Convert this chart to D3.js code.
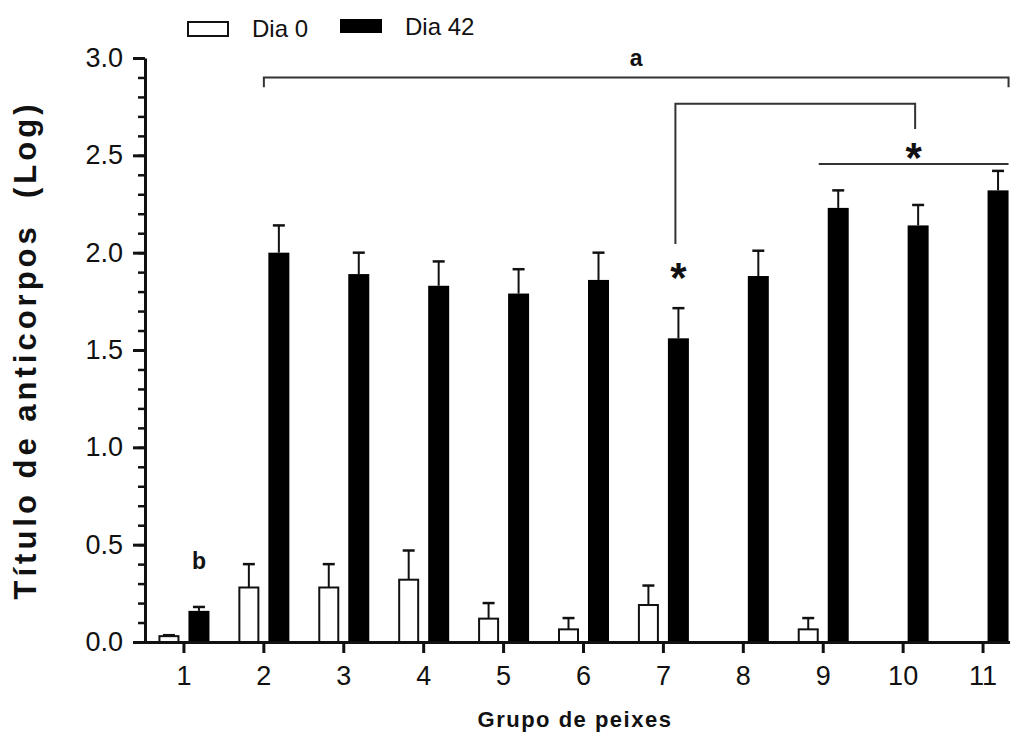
<!DOCTYPE html>
<html>
<head>
<meta charset="utf-8">
<script src="https://cdn.jsdelivr.net/npm/d3@7"></script>
<style>
body { margin: 0; background: #fff; }
svg { display: block; font-family: "Liberation Sans", Arial, Helvetica, sans-serif; }
</style>
</head>
<body>
<svg id="chart"></svg>
<script>
const WIDTH = 1017;
const HEIGHT = 736;

// groups of fish and the two sampling days
const groups = ["1", "2", "3", "4", "5", "6", "7", "8", "9", "10", "11"];
const series = ["Dia 0", "Dia 42"];

const dia0 = [0.03, 0.28, 0.28, 0.32, 0.12, 0.065, 0.19, 0, 0.065, 0, 0];
const dia0Err = [0.005, 0.12, 0.12, 0.15, 0.08, 0.058, 0.10, 0, 0.058, 0, 0];
const dia42 = [0.16, 2.0, 1.89, 1.83, 1.79, 1.86, 1.56, 1.88, 2.23, 2.14, 2.32];
const dia42Err = [0.02, 0.14, 0.11, 0.125, 0.125, 0.14, 0.155, 0.13, 0.09, 0.105, 0.1];

const yMajorTicks = [0, 0.5, 1.0, 1.5, 2.0, 2.5, 3.0];
const yMinorTicks = d3.range(0, 31).map(d => d / 10);

// significance marks (y in axis units)
const brackets = [
	{ from: ["2", "mid"], to: ["11", "Dia 42 right"], y: 2.9, yFrom: 2.85, yTo: 2.85 },
	{ from: ["7", "Dia 42 mid"], to: ["10", "Dia 42 mid"], y: 2.765, yFrom: 2.045, yTo: 2.635 },
	{ from: ["9", "Dia 0 right"], to: ["11", "Dia 42 right"], y: 2.455, yFrom: 2.455, yTo: 2.455 },
];
const bracketLabels = [
	{ bracket: 0, text: "a", y: 2.995, kind: "letter" },
	{ bracket: 2, text: "*", y: 2.535, kind: "star" },
];
const barLabels = [
	{ group: "7", text: "*", y: 1.92, kind: "star" },
	{ group: "1", text: "b", y: 0.41, kind: "letter" },
];

const svg = d3.select("#chart").attr("width", WIDTH).attr("height", HEIGHT);

const x0 = d3.scaleBand(groups, [144, 1023]).padding(0);
const x1 = d3.scaleBand(series, [x0.bandwidth() / 2 - 25.5, x0.bandwidth() / 2 + 25.5]).paddingInner(0.3);
const y = d3.scaleLinear([0, 3], [642, 58]);
const bw = x1.bandwidth();

function anchorX(g, where) {
	const left = x0(g);
	if (where === "mid") return left + x0.bandwidth() / 2;
	if (where === "Dia 42 mid") return left + x1("Dia 42") + bw / 2 - 3;
	if (where === "Dia 42 right") return left + x1("Dia 42") + bw;
	if (where === "Dia 0 right") return left + x1("Dia 0") + bw;
	return left;
}

const rows = groups.map((g, i) => ({
	g,
	bars: [
		{ s: "Dia 0", v: dia0[i], e: dia0Err[i] },
		{ s: "Dia 42", v: dia42[i], e: dia42Err[i] },
	],
}));

const groupSel = svg.append("g")
	.selectAll("g")
	.data(rows)
	.join("g")
	.attr("transform", d => `translate(${x0(d.g)},0)`);

const bars = groupSel.selectAll("g")
	.data(d => d.bars.filter(b => b.v > 0))
	.join("g");

// error bars first so the bar covers the stem base
bars.append("line")
	.attr("x1", d => x1(d.s) + bw / 2)
	.attr("x2", d => x1(d.s) + bw / 2)
	.attr("y1", d => y(d.v))
	.attr("y2", d => y(d.v + d.e))
	.attr("stroke", "#111")
	.attr("stroke-width", 2);

bars.append("line")
	.attr("x1", d => x1(d.s) + bw / 2 - 6)
	.attr("x2", d => x1(d.s) + bw / 2 + 6)
	.attr("y1", d => y(d.v + d.e))
	.attr("y2", d => y(d.v + d.e))
	.attr("stroke", "#111")
	.attr("stroke-width", 2.5);

bars.append("rect")
	.attr("x", d => x1(d.s) + (d.s === "Dia 0" ? 1 : 0))
	.attr("width", d => bw - (d.s === "Dia 0" ? 2 : 0))
	.attr("y", d => y(d.v))
	.attr("height", d => y(0) - y(d.v))
	.attr("fill", d => d.s === "Dia 0" ? "#fff" : "#000")
	.attr("stroke", d => d.s === "Dia 0" ? "#111" : "none")
	.attr("stroke-width", 2);

// axes
const yAxisMinor = svg.append("g")
	.attr("transform", "translate(145,0)")
	.call(d3.axisLeft(y).tickValues(yMinorTicks).tickSize(7).tickSizeOuter(0).tickFormat(""));
yAxisMinor.select(".domain").remove();
yAxisMinor.selectAll("line").attr("stroke", "#111").attr("stroke-width", 2.5);

const yAxis = svg.append("g")
	.attr("transform", "translate(145,0)")
	.call(d3.axisLeft(y).tickValues(yMajorTicks).tickSize(12).tickSizeOuter(0).tickPadding(10).tickFormat(d3.format(".1f")));
yAxis.select(".domain").attr("stroke", "#111").attr("stroke-width", 3);
yAxis.selectAll("line").attr("stroke", "#111").attr("stroke-width", 3);
yAxis.selectAll("text").attr("font-size", 27).attr("font-family", null).attr("fill", "#111");

const xAxis = svg.append("g")
	.attr("transform", `translate(0,${y(0)})`)
	.call(d3.axisBottom(x0).tickSize(11).tickSizeOuter(0).tickPadding(13));
xAxis.select(".domain").attr("d", "M143.5,0.5H1010").attr("stroke", "#111").attr("stroke-width", 3);
xAxis.selectAll("line").attr("stroke", "#111").attr("stroke-width", 3);
xAxis.selectAll("text").attr("font-size", 27).attr("font-family", null).attr("fill", "#111");

// axis titles
svg.append("text")
	.attr("transform", "translate(36,350) rotate(-90)")
	.attr("text-anchor", "middle")
	.attr("font-size", 31)
	.attr("font-weight", "bold")
	.attr("letter-spacing", 4)
	.attr("fill", "#111")
	.attr("xml:space", "preserve")
	.style("white-space", "pre")
	.text("Título de anticorpos  (Log)");

svg.append("text")
	.attr("x", 575)
	.attr("y", 727)
	.attr("text-anchor", "middle")
	.attr("font-size", 22)
	.attr("font-weight", "bold")
	.attr("letter-spacing", 1.5)
	.attr("fill", "#111")
	.text("Grupo de peixes");

// brackets
const bracketGeom = brackets.map(b => ({
	xa: anchorX(b.from[0], b.from[1]),
	xb: anchorX(b.to[0], b.to[1]),
	y: y(b.y),
	ya: y(b.yFrom),
	yb: y(b.yTo),
}));

svg.append("g")
	.selectAll("path")
	.data(bracketGeom)
	.join("path")
	.attr("d", d => `M${d.xa},${d.ya}V${d.y}H${d.xb}V${d.yb}`)
	.attr("fill", "none")
	.attr("stroke", "#333")
	.attr("stroke-width", 2);

function markText(sel) {
	sel.attr("text-anchor", "middle")
		.attr("font-weight", "bold")
		.attr("fill", "#111")
		.attr("font-size", d => d.kind === "star" ? 42 : 23)
		.attr("dy", d => d.kind === "star" ? "0.57em" : "0.3em")
		.text(d => d.text);
}

svg.append("g")
	.selectAll("text")
	.data(bracketLabels)
	.join("text")
	.attr("x", d => (bracketGeom[d.bracket].xa + bracketGeom[d.bracket].xb) / 2)
	.attr("y", d => y(d.y))
	.call(markText);

svg.append("g")
	.selectAll("text")
	.data(barLabels)
	.join("text")
	.attr("x", d => x0(d.group) + x1("Dia 42") + bw / 2)
	.attr("y", d => y(d.y))
	.call(markText);

// legend
const legendItems = [
	{ s: "Dia 0", x: 188, y: 22, w: 40, h: 14, tx: 252, ty: 37 },
	{ s: "Dia 42", x: 340, y: 19, w: 42, h: 14, tx: 405, ty: 35 },
];
const legend = svg.append("g")
	.selectAll("g")
	.data(legendItems)
	.join("g");

legend.append("rect")
	.attr("x", d => d.x)
	.attr("y", d => d.y)
	.attr("width", d => d.w)
	.attr("height", d => d.h)
	.attr("fill", d => d.s === "Dia 0" ? "#fff" : "#000")
	.attr("stroke", d => d.s === "Dia 0" ? "#111" : "none")
	.attr("stroke-width", 2);

legend.append("text")
	.attr("x", d => d.tx)
	.attr("y", d => d.ty)
	.attr("font-size", 24)
	.attr("fill", "#111")
	.text(d => d.s);
</script>
</body>
</html>
